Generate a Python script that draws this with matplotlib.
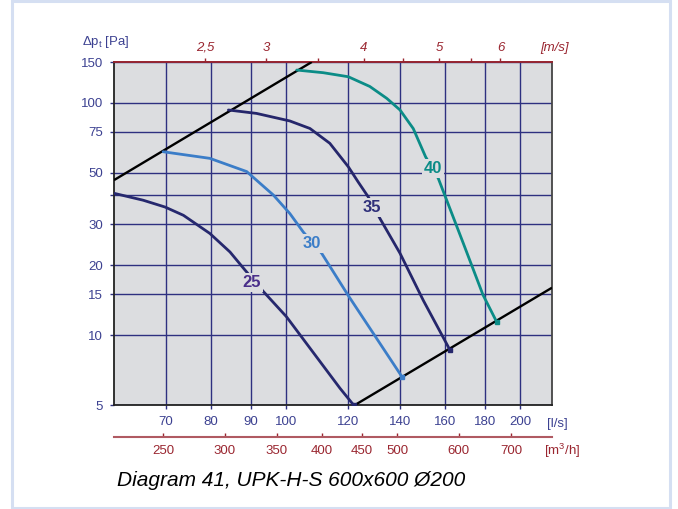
import matplotlib
matplotlib.use('Agg')
import matplotlib.pyplot as plt
from matplotlib.ticker import NullLocator
from matplotlib.patches import Rectangle

plt.rcParams['font.family'] = ['Liberation Sans', 'DejaVu Sans']
plt.rcParams['mathtext.fontset'] = 'custom'
plt.rcParams['mathtext.rm'] = 'Liberation Sans'

# ---------------- data (air flow in l/s, total pressure in Pa) ----------------
q25 = [60, 65.4, 69.8, 73.7, 79.7, 84.6, 88.4, 93.4, 100, 117.2, 122]
p25 = [40.8, 38.1, 35.6, 32.8, 27.4, 22.8, 19.1, 15.4, 12.0, 5.9, 5.0]

q30 = [69.4, 79.7, 88.9, 96.2, 101, 105.1, 111, 120.1, 141]
p30 = [61.6, 57.7, 50.6, 40.1, 33.4, 27.8, 22.5, 14.8, 6.57]

q35 = [84.2, 91.5, 101, 107.2, 113.7, 120.1, 123.7, 127.4, 131.9, 140, 150, 162.4]
p35 = [93.2, 90.1, 83.6, 77.6, 67.0, 53.1, 45.6, 39.4, 31.8, 22.5, 14.1, 8.6]

q40 = [103.1, 111.5, 120.1, 128, 134.6, 140, 145.6, 151, 156.8, 168.9, 179, 186.4]
p40 = [138.5, 134.9, 129.6, 117.7, 104.6, 93.2, 77.5, 58.6, 47.3, 24.8, 14.9, 11.4]

curve_names = ['25', '30', '35', '40']
label_q = [90.2, 107.8, 128.7, 154.3]
label_p = [16.9, 24.8, 35.6, 52.4]

sys_hi_q = [60, 107.8]
sys_hi_p = [46.5, 150]
sys_lo_q = [122.5, 219.6]
sys_lo_p = [5.0, 16.0]

xticks_ls = [70, 80, 90, 100, 120, 140, 160, 180, 200]
yticks_pa = [5, 10, 15, 20, 30, 40, 50, 75, 100, 150]
ylabels_pa = ['5', '10', '15', '20', '30', '', '50', '75', '100', '150']
vel_ticks = [2.5, 3, 3.5, 4, 4.5, 5, 5.5, 6]
vel_labels = ['2,5', '3', '', '4', '', '5', '', '6']
m3h_ticks = [250, 300, 350, 400, 450, 500, 600, 700]
m3h_labels = ['250', '300', '350', '400', '450', '500', '600', '700']
duct_area = 31.416   # l/s per m/s for duct Ø200

# ---------------- styling ----------------
navy = '#2e3080'
navy_txt = '#3c4191'
dred = '#9a2630'
plot_bg = '#dcdde0'
c25, c30, c35, c40 = '#26286e', '#3b7dc8', '#25266b', '#0b8c87'
lab_cols = ['#4a2f8a', '#3b7dc8', '#2e2f7a', '#0b8c87']

W, H = 678, 509
fig = plt.figure(figsize=(W / 100, H / 100), dpi=100)
fig.patch.set_facecolor('white')
fig.patches.append(Rectangle((11.5 / W, 1 - 507.5 / H), (669.5 - 11.5) / W, (507.5 - 1) / H,
                             transform=fig.transFigure, fill=False,
                             ec='#d5dff2', lw=2.2, zorder=0))

ax = fig.add_axes([114 / W, 1 - 405 / H, (552 - 114) / W, (405 - 62) / H])
ax.set_facecolor(plot_bg)
ax.set_xscale('log')
ax.set_yscale('log')
ax.set_xlim(60, 219.6)
ax.set_ylim(5, 150)

ax.set_xticks(xticks_ls, [str(v) for v in xticks_ls])
ax.set_yticks(yticks_pa, ylabels_pa)
ax.xaxis.set_minor_locator(NullLocator())
ax.yaxis.set_minor_locator(NullLocator())
ax.grid(True, which='major', color=navy, lw=1.0, zorder=1)
ax.set_axisbelow(True)
ax.tick_params(axis='x', direction='out', length=3, width=1, color=navy,
               labelcolor=navy_txt, labelsize=9.5, pad=5)
ax.tick_params(axis='y', direction='out', length=3, width=1, color=navy,
               labelcolor=navy_txt, labelsize=9.5, pad=5)
for s in ['left', 'bottom']:
    ax.spines[s].set_color('#222222')
    ax.spines[s].set_linewidth(1.3)
ax.spines['right'].set_color('#444444')
ax.spines['right'].set_linewidth(1.3)
ax.spines['top'].set_color(dred)
ax.spines['top'].set_linewidth(1.3)

# system lines
ax.plot(sys_hi_q, sys_hi_p, color='black', lw=1.7, zorder=3, solid_capstyle='butt')
ax.plot(sys_lo_q, sys_lo_p, color='black', lw=1.7, zorder=3, solid_capstyle='butt')

# fan curves
for q, p, c in [(q25, p25, c25), (q30, p30, c30), (q35, p35, c35), (q40, p40, c40)]:
    ax.plot(q, p, color=c, lw=2.0, zorder=4, solid_capstyle='round', solid_joinstyle='round')
    ax.plot([q[-1]], [p[-1]], marker='s', ms=3.5, color=c, zorder=5)

for name, lq, lp, lc in zip(curve_names, label_q, label_p, lab_cols):
    ax.text(lq, lp, name, color=lc, fontsize=12, fontweight='bold',
            ha='center', va='center', zorder=6,
            bbox=dict(boxstyle='square,pad=0.12', fc=plot_bg, ec='none'))

# top velocity axis
top = ax.secondary_xaxis('top', functions=(lambda q: q / duct_area, lambda v: v * duct_area))
top.set_xticks(vel_ticks)
top.set_xticklabels(vel_labels, fontstyle='italic')
top.xaxis.set_minor_locator(NullLocator())
top.tick_params(direction='out', length=3, width=1, color=dred, labelcolor=dred,
                labelsize=9.5, pad=3)
top.spines['top'].set_color(dred)
top.spines['top'].set_linewidth(1.3)

# bottom m3/h axis
bot = ax.secondary_xaxis(-0.0924, functions=(lambda q: q * 3.6, lambda m: m / 3.6))
bot.set_xticks(m3h_ticks)
bot.set_xticklabels(m3h_labels)
bot.xaxis.set_minor_locator(NullLocator())
bot.tick_params(direction='in', length=3, width=1, color=dred, labelcolor=dred,
                labelsize=9.5, pad=6)
bot.spines['bottom'].set_color('#b05a62')
bot.spines['bottom'].set_linewidth(1.5)

# unit labels
fig.text(82 / W, 1 - 42 / H, r'$\Delta$p$_\mathregular{t}$ [Pa]', color=navy_txt,
         fontsize=9.5, ha='left', va='center')
fig.text(540 / W, 1 - 47.7 / H, '[m/s]', color=dred, fontsize=9.5, fontstyle='italic',
         ha='left', va='center')
fig.text(547 / W, 1 - 424 / H, '[l/s]', color=navy_txt, fontsize=9.5,
         ha='left', va='center')
fig.text(544 / W, 1 - 451 / H, r'[m$^\mathregular{3}$/h]', color=dred, fontsize=9.5,
         ha='left', va='center')
fig.text(117 / W, 1 - 480 / H, 'Diagram 41, UPK-H-S 600x600 Ø200', color='black',
         fontsize=15, fontstyle='italic', ha='left', va='center')

fig.savefig('out.png', dpi=100)
